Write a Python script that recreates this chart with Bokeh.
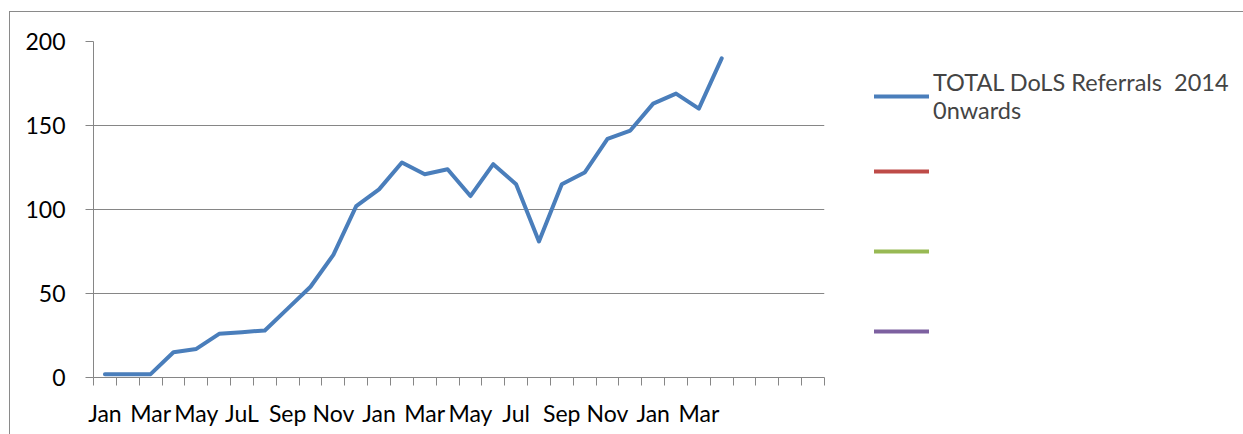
from bokeh.plotting import figure
from bokeh.models import FixedTicker, Legend, LegendItem, ColumnDataSource, Row
from bokeh.embed import file_html
from bokeh.resources import INLINE

# ---- data ----
months = ["Jan", "Feb", "Mar", "Apr", "May", "Jun", "Jul", "Aug", "Sep", "Oct", "Nov", "Dec",
          "Jan", "Feb", "Mar", "Apr", "May", "Jun", "Jul", "Aug", "Sep", "Oct", "Nov", "Dec",
          "Jan", "Feb", "Mar", "Apr"]
referrals = [2, 2, 2, 15, 17, 26, 27, 28, 41, 54, 73, 102,
             112, 128, 121, 124, 108, 127, 115, 81, 115, 122, 142, 147,
             163, 169, 160, 190]
n_slots = 32
tick_labels = ["Jan", "Mar", "May", "JuL", "Sep", "Nov", "Jan", "Mar", "May", "Jul",
               "Sep", "Nov", "Jan", "Mar"]
y_ticks = [0, 50, 100, 150, 200]
series_name = "TOTAL DoLS Referrals  2014\n0nwards"
series_colors = ["#4A7EBB", "#BE4B48", "#98B954", "#7D60A0"]
# three further series that hold no values (shown only as legend entries)
series2 = [float("nan")]
series3 = [float("nan")]
series4 = [float("nan")]

FONT = "Lato"
FS = "23px"
GRAY = "#868686"

idx = list(range(len(referrals)))
src = ColumnDataSource(dict(x=idx, y=referrals, month=months))

# ---- main plot ----
p = figure(width=815, height=423, x_range=(-0.5, n_slots - 0.5), y_range=(0, 200),
           output_backend="svg", toolbar_location=None,
           min_border_left=83, min_border_right=1, min_border_top=29, min_border_bottom=58)
p.outline_line_color = None
p.background_fill_color = "white"
p.border_fill_color = "white"

main = p.line("x", "y", source=src, line_color=series_colors[0], line_width=4,
              line_join="round", line_cap="round")

xa = p.xaxis[0]
major = list(range(0, 2 * len(tick_labels), 2))
xa.ticker = FixedTicker(ticks=major, minor_ticks=[i - 0.5 for i in range(n_slots + 1)])
xa.major_label_overrides = {m: t for m, t in zip(major, tick_labels)}
xa.major_tick_out = 0
xa.major_tick_in = 0
xa.minor_tick_out = 8
xa.minor_tick_in = 0
xa.minor_tick_line_color = GRAY
xa.axis_line_color = GRAY
xa.major_label_standoff = 13
xa.major_label_text_font = FONT
xa.major_label_text_font_size = FS
xa.major_label_text_color = "black"

ya = p.yaxis[0]
ya.ticker = FixedTicker(ticks=y_ticks)
ya.major_tick_out = 8
ya.major_tick_in = 0
ya.minor_tick_out = 0
ya.minor_tick_in = 0
ya.major_tick_line_color = GRAY
ya.axis_line_color = GRAY
ya.major_label_standoff = 20
ya.major_label_text_font = FONT
ya.major_label_text_font_size = FS
ya.major_label_text_color = "black"

p.xgrid.grid_line_color = None
p.ygrid.ticker = FixedTicker(ticks=y_ticks)
p.ygrid.grid_line_color = GRAY
p.ygrid.grid_line_width = 1

# ---- legend panel ----
lp = figure(width=419, height=423, x_range=(0, 1), y_range=(0, 1),
            x_axis_type=None, y_axis_type=None,
            output_backend="svg", toolbar_location=None,
            min_border_left=0, min_border_right=0, min_border_top=0, min_border_bottom=0)
lp.outline_line_color = None
lp.xgrid.grid_line_color = None
lp.ygrid.grid_line_color = None
lp.background_fill_color = "white"
lp.border_fill_color = "white"

lr1 = lp.line(x=[0], y=series2, line_color=series_colors[0], line_width=4, line_cap="round")
lr2 = lp.line(x=[0], y=series2, line_color=series_colors[1], line_width=4, line_cap="round")
lr3 = lp.line(x=[0], y=series3, line_color=series_colors[2], line_width=4, line_cap="round")
lr4 = lp.line(x=[0], y=series4, line_color=series_colors[3], line_width=4, line_cap="round")

common = dict(glyph_width=55, glyph_height=20, label_standoff=4, padding=0, margin=0,
              spacing=0, border_line_color=None, background_fill_alpha=0,
              label_text_font=FONT, label_text_font_size="23.5px",
              label_text_baseline="bottom")

legend_a = Legend(items=[LegendItem(label=series_name, renderers=[lr1])],
                  location=(49, 228), label_height=106, **common)
legend_b = Legend(items=[LegendItem(label="\u00a0", renderers=[lr2]),
                         LegendItem(label="\u00a0", renderers=[lr3]),
                         LegendItem(label="\u00a0", renderers=[lr4])],
                  location=(49, 6), label_height=80, **common)
lp.add_layout(legend_a, "center")
lp.add_layout(legend_b, "center")

layout = Row(children=[p, lp], spacing=0, margin=(11, 0, 0, 9),
             styles={"border-left": "1px solid #8a8a8a", "border-top": "1px solid #8a8a8a"})

open("out.html", "w").write(file_html(layout, INLINE))
